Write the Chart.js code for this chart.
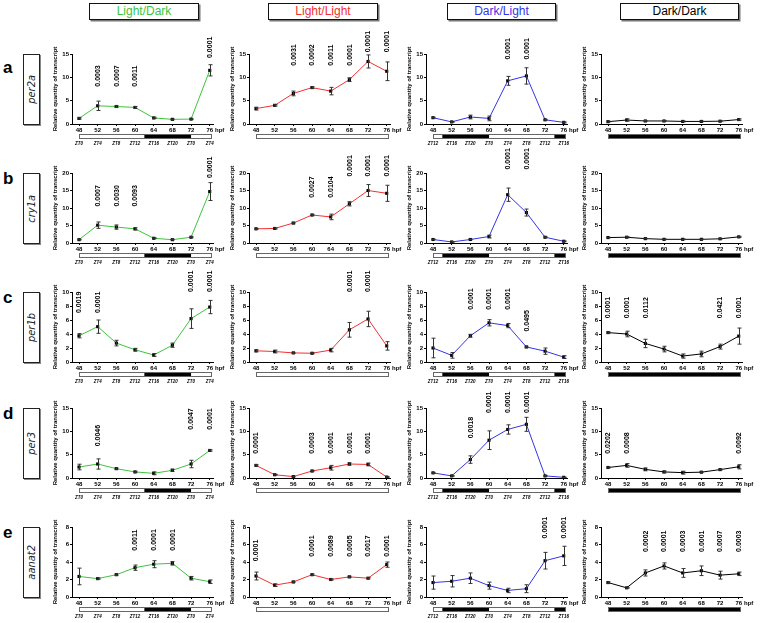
<!DOCTYPE html>
<html lang="en">
<head>
  <meta charset="UTF-8" />
  <title>Clock gene expression under four light regimes</title>
  <script src="https://cdn.jsdelivr.net/npm/chart.js"></script>
  <style>
    body {
      margin: 0;
      background: #fff;
      font-family: "Liberation Sans", Arial, sans-serif;
    }
    #page {
      position: relative;
      width: 760px;
      height: 623px;
      overflow: hidden;
    }
    #page canvas, .head, .gene, .letter {
      position: absolute;
    }
    .head {
      height: 15px;
      border: 1px solid #111;
      box-shadow: 1.5px 1.5px 0 #777;
      font-size: 12px;
      line-height: 15px;
      text-align: center;
    }
    .gene {
      left: 23px;
      width: 15px;
      height: 69px;
      border: 1px solid #222;
      box-shadow: 1px 1px 0 #888;
      display: flex;
      align-items: center;
      justify-content: center;
    }
    .gene span {
      writing-mode: vertical-rl;
      transform: rotate(180deg);
      font-family: "Liberation Sans Narrow", "DejaVu Sans Condensed", "Liberation Sans", sans-serif;
      font-style: italic;
      font-size: 11px;
      color: #222;
    }
    .letter {
      left: 3px;
      font-size: 17px;
      font-weight: bold;
      line-height: 20px;
    }
  </style>
</head>
<body>
<div id="page"></div>

<script>
  // time points (hours post fertilisation)
  const hpf = [48, 52, 56, 60, 64, 68, 72, 76];
  const conditions = ['Light/Dark', 'Light/Light', 'Dark/Light', 'Dark/Dark'];
  const condColors = ['#3cc43c', '#f2312f', '#3434e6', '#000000'];
  const genes = ['per2a', 'cry1a', 'per1b', 'per3', 'aanat2'];
  const rowLetters = ['a', 'b', 'c', 'd', 'e'];
  const yMax = [15, 20, 10, 15, 8];
  const yStep = [5, 5, 2, 5, 2];

  // zeitgeber labels under the light bars
  const ztLD = ['ZT0', 'ZT4', 'ZT8', 'ZT12', 'ZT16', 'ZT20', 'ZT0', 'ZT4'];
  const ztDL = ['ZT12', 'ZT16', 'ZT20', 'ZT0', 'ZT4', 'ZT8', 'ZT12', 'ZT16'];
  const ztLabels = [ztLD, null, ztDL, null];
  // dark periods (hpf) per condition
  const darkHours = [[[62, 72]], [], [[50, 60], [74, 76]], [[48, 76]]];

  // each gene: rows = LD, LL, DL, DD
  const per2aMean = [
    [1.2, 3.9, 3.75, 3.55, 1.3, 1.0, 1.05, 11.5],
    [3.3, 4.0, 6.55, 7.8, 7.05, 9.5, 13.4, 11.3],
    [1.35, 0.45, 1.5, 1.2, 9.25, 10.3, 0.9, 0.35],
    [0.5, 0.85, 0.65, 0.65, 0.55, 0.55, 0.6, 0.95]
  ];
  const per2aSem = [
    [0.15, 1.0, 0.2, 0.2, 0.15, 0.1, 0.1, 1.2],
    [0.3, 0.15, 0.5, 0.2, 0.8, 0.4, 1.4, 2.0],
    [0.1, 0.1, 0.4, 0.5, 0.95, 1.75, 0.1, 0.1],
    [0.1, 0.25, 0.1, 0.1, 0.1, 0.1, 0.1, 0.15]
  ];
  const per2aP = [
    [null, '0.0003', '0.0007', '0.0011', null, null, null, '0.0001'],
    [null, null, '0.0031', '0.0002', '0.0011', '0.0001', '0.0001', '0.0001'],
    [null, null, null, null, '0.0001', '0.0001', null, null],
    [null, null, null, null, null, null, null, null]
  ];
  const per2aPy = [
    [0, 8, 8, 8, 0, 0, 0, 14.15],
    [0, 0, 12.5, 12.5, 12.5, 12.5, 15.35, 15.35],
    [0, 0, 0, 0, 13.8, 13.8, 0, 0],
    [0, 0, 0, 0, 0, 0, 0, 0]
  ];

  const cry1aMean = [
    [0.95, 5.1, 4.55, 4.05, 1.35, 0.95, 1.65, 14.7],
    [4.05, 4.15, 5.7, 8.0, 7.45, 11.2, 15.0, 14.2],
    [1.0, 0.3, 1.0, 1.85, 13.8, 8.7, 1.65, 0.5],
    [1.55, 1.65, 1.25, 1.05, 1.05, 1.05, 1.2, 1.75]
  ];
  const cry1aSem = [
    [0.1, 0.9, 0.6, 0.3, 0.15, 0.1, 0.15, 2.55],
    [0.15, 0.15, 0.2, 0.2, 0.8, 0.6, 1.7, 2.3],
    [0.1, 0.1, 0.1, 0.4, 1.9, 1.0, 0.15, 0.1],
    [0.1, 0.15, 0.1, 0.1, 0.1, 0.1, 0.1, 0.15]
  ];
  const cry1aP = [
    [null, '0.0007', '0.0030', '0.0093', null, null, null, '0.0001'],
    [null, null, null, '0.0027', '0.0104', '0.0001', '0.0001', '0.0001'],
    [null, null, null, null, '0.0001', '0.0001', null, null],
    [null, null, null, null, null, null, null, null]
  ];
  const cry1aPy = [
    [0, 10.4, 10.4, 10.4, 0, 0, 0, 18.6],
    [0, 0, 0, 12.9, 12.9, 19.0, 19.0, 19.0],
    [0, 0, 0, 0, 21.0, 21.0, 0, 0],
    [0, 0, 0, 0, 0, 0, 0, 0]
  ];

  const per1bMean = [
    [3.75, 5.05, 2.7, 1.75, 1.0, 2.4, 6.2, 7.85],
    [1.6, 1.5, 1.3, 1.25, 1.7, 4.6, 6.15, 2.3],
    [2.0, 0.95, 3.75, 5.6, 5.2, 2.15, 1.55, 0.7],
    [4.2, 4.0, 2.65, 1.85, 0.85, 1.15, 2.2, 3.7]
  ];
  const per1bSem = [
    [0.3, 0.95, 0.4, 0.2, 0.2, 0.3, 1.4, 0.95],
    [0.15, 0.2, 0.08, 0.08, 0.25, 1.05, 1.1, 0.6],
    [1.4, 0.4, 0.2, 0.45, 0.3, 0.1, 0.45, 0.2],
    [0.1, 0.4, 0.6, 0.4, 0.3, 0.4, 0.35, 1.15]
  ];
  const per1bP = [
    ['0.0019', '0.0001', null, null, null, null, '0.0001', '0.0001'],
    [null, null, null, null, null, '0.0001', '0.0001', null],
    [null, null, '0.0001', '0.0001', '0.0001', '0.0495', null, null],
    ['0.0001', '0.0001', '0.0112', null, null, null, '0.0421', '0.0001']
  ];
  const per1bPy = [
    [7.0, 7.0, 0, 0, 0, 0, 10.0, 10.0],
    [0, 0, 0, 0, 0, 10.0, 10.0, 0],
    [0, 0, 7.45, 7.45, 7.45, 4.35, 0, 0],
    [6.25, 6.25, 6.25, 0, 0, 0, 6.25, 6.25]
  ];

  const per3Mean = [
    [2.35, 3.0, 2.0, 1.3, 1.0, 1.65, 3.0, 5.9],
    [2.7, 0.7, 0.3, 1.5, 2.2, 3.0, 2.9, 0.2],
    [1.1, 0.45, 3.95, 8.1, 10.4, 11.5, 0.45, 0.15],
    [2.25, 2.7, 1.85, 1.3, 1.15, 1.25, 1.8, 2.4]
  ];
  const per3Sem = [
    [0.6, 1.1, 0.15, 0.15, 0.3, 0.25, 0.8, 0.15],
    [0.15, 0.1, 0.1, 0.15, 0.5, 0.25, 0.3, 0.1],
    [0.1, 0.1, 0.8, 2.0, 1.0, 1.5, 0.1, 0.05],
    [0.1, 0.4, 0.3, 0.2, 0.3, 0.1, 0.1, 0.45]
  ];
  const per3P = [
    [null, '0.0046', null, null, null, null, '0.0047', '0.0001'],
    ['0.0001', null, null, '0.0003', '0.0001', '0.0001', '0.0001', null],
    [null, null, '0.0018', '0.0001', '0.0001', '0.0001', null, null],
    ['0.0202', '0.0008', null, null, null, null, null, '0.0092']
  ];
  const per3Py = [
    [0, 6.8, 0, 0, 0, 0, 10.35, 10.35],
    [5.2, 0, 0, 5.2, 5.2, 5.2, 5.2, 0],
    [0, 0, 8.5, 13.95, 13.95, 13.95, 0, 0],
    [5.2, 5.2, 0, 0, 0, 0, 0, 5.2]
  ];

  const aanat2Mean = [
    [2.35, 2.1, 2.55, 3.35, 3.75, 3.85, 2.15, 1.75],
    [2.4, 1.35, 1.72, 2.55, 2.0, 2.3, 2.15, 3.7],
    [1.65, 1.8, 2.15, 1.3, 0.75, 0.95, 4.15, 4.7],
    [1.65, 1.05, 2.75, 3.55, 2.75, 3.0, 2.5, 2.65]
  ];
  const aanat2Sem = [
    [0.95, 0.08, 0.08, 0.3, 0.4, 0.2, 0.2, 0.2],
    [0.45, 0.15, 0.08, 0.08, 0.08, 0.08, 0.08, 0.3],
    [0.75, 0.65, 0.6, 0.4, 0.25, 0.45, 0.95, 1.1],
    [0.08, 0.05, 0.35, 0.35, 0.5, 0.55, 0.45, 0.2]
  ];
  const aanat2P = [
    [null, null, null, '0.0011', '0.0001', '0.0001', null, null],
    ['0.0001', null, null, '0.0001', '0.0089', '0.0005', '0.0017', '0.0001'],
    [null, null, null, null, null, null, '0.0001', '0.0001'],
    [null, null, '0.0002', '0.0001', '0.0003', '0.0001', '0.0007', '0.0003']
  ];
  const aanat2Py = [
    [0, 0, 0, 5.3, 5.3, 5.3, 0, 0],
    [4.1, 0, 0, 4.6, 4.6, 4.6, 4.6, 4.6],
    [0, 0, 0, 0, 0, 0, 6.7, 6.7],
    [0, 0, 5.15, 5.15, 5.15, 5.15, 5.15, 5.15]
  ];

  const allMean = [per2aMean, cry1aMean, per1bMean, per3Mean, aanat2Mean];
  const allSem = [per2aSem, cry1aSem, per1bSem, per3Sem, aanat2Sem];
  const allP = [per2aP, cry1aP, per1bP, per3P, aanat2P];
  const allPy = [per2aPy, cry1aPy, per1bPy, per3Py, aanat2Py];

  // layout
  const plotLeft = [72, 249, 426, 601];
  const plotTop = [54, 173, 292, 408, 527];
  const plotW = 141, plotH = 70;
  const padL = 22, padT = 26, padR = 15, padB = 26;
  const headBoxes = [[89, 108], [268, 108], [447, 107], [620, 117]];

  Chart.defaults.font.family = '"Liberation Sans", Arial, sans-serif';
  Chart.defaults.color = '#000';

  const page = document.getElementById('page');

  conditions.forEach((name, c) => {
    const d = document.createElement('div');
    d.className = 'head';
    d.style.left = headBoxes[c][0] + 'px';
    d.style.top = '3px';
    d.style.width = headBoxes[c][1] + 'px';
    d.style.color = condColors[c];
    d.textContent = name;
    page.appendChild(d);
  });

  genes.forEach((g, r) => {
    const box = document.createElement('div');
    box.className = 'gene';
    box.style.top = plotTop[r] + 'px';
    box.innerHTML = '<span>' + g + '</span>';
    page.appendChild(box);

    const l = document.createElement('div');
    l.className = 'letter';
    l.style.top = (plotTop[r] + (r === 0 ? 4 : -4)) + 'px';
    l.textContent = rowLetters[r];
    page.appendChild(l);
  });

  // error bars, p-values, light bar, ZT labels, "hpf"
  const extras = {
    id: 'extras',
    afterDatasetsDraw(chart, args, o) {
      const ctx = chart.ctx, xs = chart.scales.x, ys = chart.scales.y;
      ctx.save();
      ctx.strokeStyle = '#333';
      ctx.lineWidth = 1;
      o.mean.forEach((m, i) => {
        const e = o.sem[i];
        if (!e) return;
        const x = Math.round(xs.getPixelForValue(hpf[i])) + 0.5;
        const y0 = ys.getPixelForValue(m - e), y1 = ys.getPixelForValue(m + e);
        ctx.beginPath();
        ctx.moveTo(x, y0); ctx.lineTo(x, y1);
        ctx.moveTo(x - 2, y0); ctx.lineTo(x + 2, y0);
        ctx.moveTo(x - 2, y1); ctx.lineTo(x + 2, y1);
        ctx.stroke();
      });
      ctx.restore();
    },
    afterDraw(chart, args, o) {
      const ctx = chart.ctx, xs = chart.scales.x, ys = chart.scales.y;
      const a = chart.chartArea;
      ctx.save();
      // p-values
      ctx.fillStyle = '#000';
      ctx.font = 'bold 7px "Liberation Sans", Arial, sans-serif';
      ctx.textAlign = 'left';
      ctx.textBaseline = 'middle';
      o.p.forEach((t, i) => {
        if (!t) return;
        ctx.save();
        ctx.translate(xs.getPixelForValue(hpf[i]) + 0.5, ys.getPixelForValue(o.py[i]));
        ctx.rotate(-Math.PI / 2);
        ctx.fillText(t, 0, 0);
        ctx.restore();
      });
      // hpf unit
      ctx.font = 'bold 6px "Liberation Sans", Arial, sans-serif';
      ctx.fillText('hpf', a.right + 2, a.bottom + 6);
      // light/dark bar
      const bx0 = Math.round(xs.getPixelForValue(48)) + 0.5;
      const bx1 = Math.round(xs.getPixelForValue(76)) + 1.5;
      const by = a.bottom + 10.5;
      ctx.fillStyle = '#fff';
      ctx.fillRect(bx0, by, bx1 - bx0, 4);
      ctx.fillStyle = '#000';
      o.dark.forEach(([h0, h1]) => {
        const p0 = h0 === 48 ? bx0 : xs.getPixelForValue(h0);
        const p1 = h1 === 76 ? bx1 : xs.getPixelForValue(h1);
        ctx.fillRect(p0, by, p1 - p0, 4);
      });
      ctx.strokeStyle = '#666';
      ctx.lineWidth = 1;
      ctx.strokeRect(bx0, by, bx1 - bx0, 4);
      // ZT labels
      if (o.zt) {
        ctx.fillStyle = '#000';
        ctx.font = 'italic bold 4.5px "Liberation Sans", Arial, sans-serif';
        ctx.textAlign = 'center';
        o.zt.forEach((t, i) => ctx.fillText(t, xs.getPixelForValue(hpf[i]), a.bottom + 20));
      }
      ctx.restore();
    }
  };

  const tickFont = { size: 6, weight: 'bold' };

  genes.forEach((g, r) => {
    conditions.forEach((cond, c) => {
      const cv = document.createElement('canvas');
      const W = padL + plotW + padR, H = padT + plotH + padB;
      cv.width = W; cv.height = H;
      cv.style.left = (plotLeft[c] - padL) + 'px';
      cv.style.top = (plotTop[r] - padT) + 'px';
      cv.style.width = W + 'px';
      cv.style.height = H + 'px';
      page.appendChild(cv);

      const mean = allMean[r][c];
      new Chart(cv, {
        type: 'line',
        data: {
          datasets: [{
            data: hpf.map((h, i) => ({ x: h, y: mean[i] })),
            borderColor: condColors[c],
            borderWidth: 1,
            tension: 0,
            pointStyle: 'rect',
            pointRadius: 2.2,
            pointBorderWidth: 0,
            pointBackgroundColor: '#000'
          }]
        },
        options: {
          responsive: false,
          animation: false,
          devicePixelRatio: 1,
          layout: { padding: { top: padT, right: padR, left: 0, bottom: 0 } },
          plugins: {
            legend: { display: false },
            tooltip: { enabled: false },
            extras: {
              mean: mean,
              sem: allSem[r][c],
              p: allP[r][c],
              py: allPy[r][c],
              dark: darkHours[c],
              zt: ztLabels[c]
            }
          },
          scales: {
            x: {
              type: 'linear',
              min: 46.5,
              max: 76.7,
              afterBuildTicks: s => { s.ticks = hpf.map(v => ({ value: v })); },
              afterFit: s => { s.height = padB; },
              ticks: { font: tickFont, padding: 1, maxRotation: 0, autoSkip: false },
              grid: { drawOnChartArea: false, tickLength: 2, color: '#000' },
              border: { color: '#000', width: 1 }
            },
            y: {
              min: 0,
              max: yMax[r],
              afterFit: s => { s.width = padL; },
              ticks: { stepSize: yStep[r], font: tickFont, padding: 1 },
              title: {
                display: true,
                text: 'Relative quantity of transcript',
                font: { size: 6, weight: 'bold' },
                padding: { top: 2, bottom: 0 }
              },
              grid: { drawOnChartArea: false, tickLength: 2, color: '#000' },
              border: { color: '#000', width: 1 }
            }
          }
        },
        plugins: [extras]
      });
    });
  });
</script>
</body>
</html>
